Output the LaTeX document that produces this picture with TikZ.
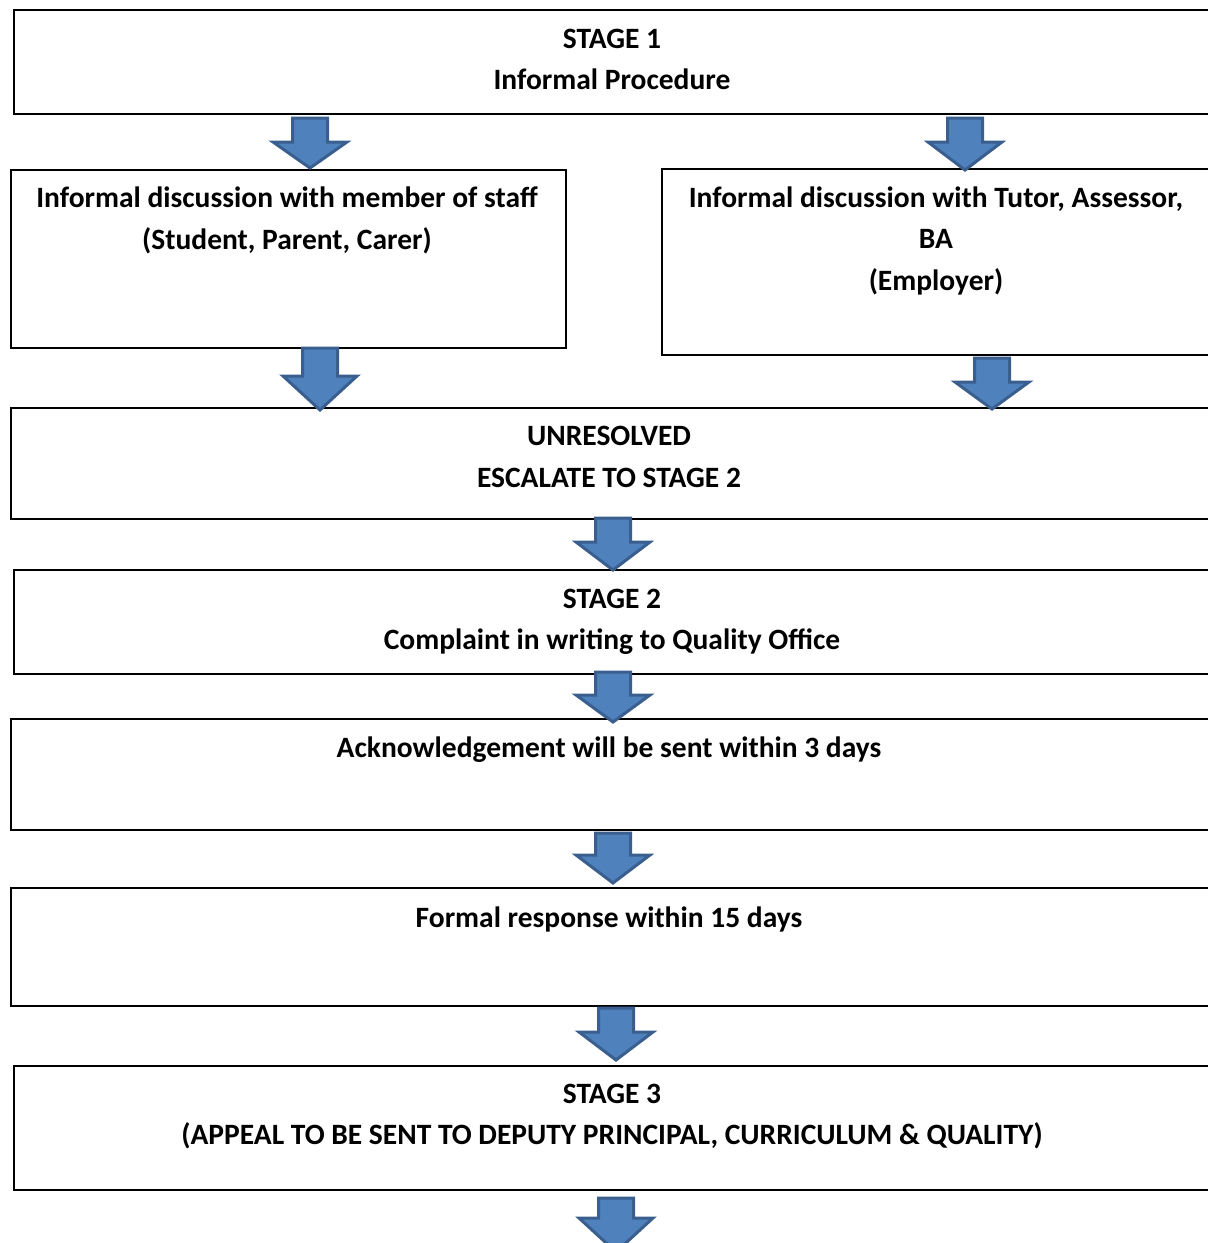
\documentclass[tikz,border=0pt]{standalone}
\usepackage{fontspec}
\setmainfont{Carlito}
\begin{document}
\begin{tikzpicture}[x=1pt,y=-1pt,
  box/.style={draw=black,line width=2.2pt,fill=white,rectangle,inner sep=0pt,anchor=north west},
  txt/.style={font=\fontsize{29.5}{35}\selectfont\bfseries,inner sep=0pt,anchor=base},
  barrow/.style={draw=arrowedge,fill=arrowfill,line width=3pt,line join=miter}]
\definecolor{arrowfill}{HTML}{4F81BD}
\definecolor{arrowedge}{HTML}{3A5F8E}
\useasboundingbox (0,0) rectangle (1208,1243);
\clip (0,0) rectangle (1208,1243);
\newcommand\blockarrow[4]{% cx, ytop, yhead, ytip
  \path[barrow] (#1-17.5,#2) -- (#1+17.5,#2) -- (#1+17.5,#3) -- (#1+37,#3) -- (#1,#4)
     -- (#1-37,#3) -- (#1-17.5,#3) -- cycle;}
% boxes
\node[box,minimum width=1230-13,minimum height=104] (b1) at (13,9) {};
\node[box,minimum width=555,minimum height=178] (bl) at (10,169) {};
\node[box,minimum width=1230-661,minimum height=186] (br) at (661,168) {};
\node[box,minimum width=1230-10,minimum height=111] (b3) at (10,407) {};
\node[box,minimum width=1230-13,minimum height=104] (b4) at (13,569) {};
\node[box,minimum width=1230-10,minimum height=111] (b5) at (10,718) {};
\node[box,minimum width=1230-10,minimum height=118] (b6) at (10,887) {};
\node[box,minimum width=1230-13,minimum height=124] (b7) at (13,1065) {};
% arrows
\blockarrow{310}{118}{142}{168}
\blockarrow{965}{118}{142}{170}
\blockarrow{320}{348}{376}{410}
\blockarrow{992}{358}{382}{409}
\blockarrow{613}{518}{542}{570}
\blockarrow{613}{672}{695}{722}
\blockarrow{613}{833}{855}{883}
\blockarrow{616}{1008}{1032}{1060}
\blockarrow{616}{1198}{1218}{1252}
% texts
\node[txt] (t1a) at (612,48) {STAGE 1};
\node[txt] (t1b) at (612,89) {Informal Procedure};
\node[txt] (tla) at (287,207) {Informal discussion with member of staff};
\node[txt] (tlb) at (287,249) {(Student, Parent, Carer)};
\node[txt] (tra) at (936,207) {Informal discussion with Tutor, Assessor,};
\node[txt] (trb) at (936,248) {BA};
\node[txt] (trc) at (936,290) {(Employer)};
\node[txt] (t3a) at (609,445) {UNRESOLVED};
\node[txt] (t3b) at (609,487) {ESCALATE TO STAGE 2};
\node[txt] (t4a) at (612,608) {STAGE 2};
\node[txt] (t4b) at (612,649) {Complaint in writing to Quality Office};
\node[txt] (t5) at (609,757) {Acknowledgement will be sent within 3 days};
\node[txt] (t6) at (609,927) {Formal response within 15 days};
\node[txt] (t7a) at (612,1103) {STAGE 3};
\node[txt] (t7b) at (612,1144) {(APPEAL TO BE SENT TO DEPUTY PRINCIPAL, CURRICULUM \& QUALITY)};
\end{tikzpicture}
\end{document}
